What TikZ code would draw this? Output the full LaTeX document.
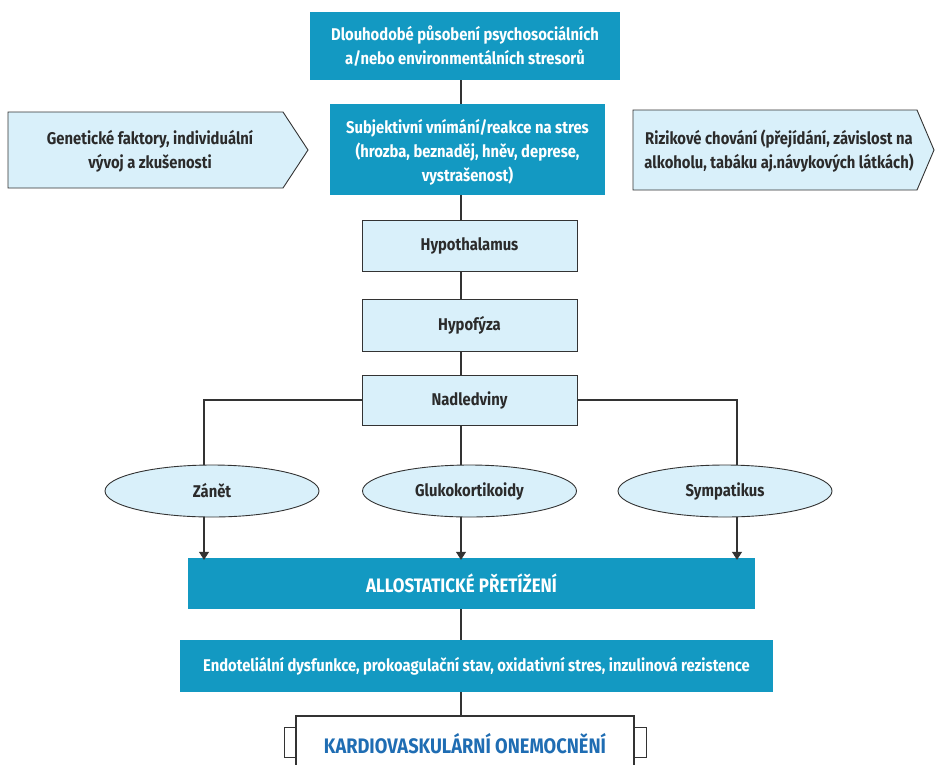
\documentclass[tikz,border=0pt]{standalone}
\usepackage{fontspec}
\setmainfont{Fira Sans}[FakeStretch=0.87]
\usetikzlibrary{shapes.geometric,arrows.meta}
\definecolor{myteal}{HTML}{1399C2}
\definecolor{mylight}{HTML}{D9F0FA}
\definecolor{myedge}{HTML}{333333}
\definecolor{mytext}{HTML}{2B2B2B}
\definecolor{kblue}{HTML}{1F6DB3}
\tikzset{
  darkbox/.style={fill=myteal, text=white, inner sep=0pt, align=center},
  lightbox/.style={fill=mylight, draw=myedge, line width=0.9pt, text=mytext, inner sep=0pt, align=center},
  oval/.style={ellipse, fill=mylight, draw=myedge, line width=0.9pt, text=mytext, inner sep=0pt, minimum width=214pt, minimum height=52pt},
  conn/.style={draw=myedge, line width=1.1pt},
  arr/.style={conn, -{Triangle[length=8pt,width=10pt]}},
  base/.style={font=\bfseries\fontsize{17}{24}\selectfont},
  bigtext/.style={font=\bfseries\fontsize{19.5}{24}\selectfont},
}
\begin{document}
\begin{tikzpicture}[x=1pt,y=-1pt, base]
\useasboundingbox (0,0) rectangle (936,764);
\coordinate (col) at (461,0);
\coordinate (lx) at (204,0);
\coordinate (rx) at (737,0);
% top
\node[darkbox, minimum width=310pt, minimum height=68pt] (top) at (465,46)
  {Dlouhodobé působení psychosociálních\\a/nebo environmentálních stresorů};
\node[darkbox, minimum width=275pt, minimum height=91pt] (subj) at (467.5,149.5)
  {\rule{0pt}{20pt}Subjektivní vnímání/reakce na stres\\(hrozba, beznaděj, hněv, deprese,\\vystrašenost)};
% side pentagons
\fill[mylight] (8,112) -- (283,112) -- (308,150) -- (283,188) -- (8,188) -- cycle;
\draw[myedge, line width=0.9pt] (8,112) -- (283,112) -- (308,150) -- (283,188) -- (8,188) -- cycle;
\node[text=mytext, align=center] (gen) at (150,151) {Genetické faktory, individuální\\vývoj a zkušenosti};
\fill[mylight] (633,110) -- (917,110) -- (934,150) -- (917,190) -- (633,190) -- cycle;
\draw[myedge, line width=0.9pt] (633,110) -- (917,110) -- (934,150) -- (917,190) -- (633,190) -- cycle;
\node[text=mytext, align=center] (riz) at (779,151) {Rizikové chování (přejídání, závislost na\\alkoholu, tabáku aj.návykových látkách)};
% chain
\node[lightbox, minimum width=215pt, minimum height=51pt] (hyp) at (469.5,245.5) {Hypothalamus};
\node[lightbox, minimum width=215pt, minimum height=52pt] (hypo) at (469.5,325) {Hypofýza};
\node[lightbox, minimum width=215pt, minimum height=50pt] (nad) at (469.5,400) {Nadledviny};
% ellipses
\node[oval] (zan) at (212,491) {Zánět};
\node[oval] (glu) at (469.5,491) {Glukokortikoidy};
\node[oval] (sym) at (725,491) {Sympatikus};
% allostatic
\node[darkbox, bigtext, minimum width=567pt, minimum height=51pt] (allo) at (471.5,583.5) {ALLOSTATICKÉ PŘETÍŽENÍ\hspace*{20pt}};
\node[darkbox, minimum width=593pt, minimum height=52pt] (endo) at (476.5,666) {Endoteliální dysfunkce, prokoagulační stav, oxidativní stres, inzulinová rezistence};
% kardio
\draw[myedge, line width=0.9pt, fill=white] (284,727) rectangle (296,757);
\draw[myedge, line width=0.9pt, fill=white] (634,727) rectangle (646,757);
\node[draw=myedge, line width=1.2pt, fill=white, text=kblue, minimum width=338pt, minimum height=56pt, inner sep=0pt, font=\bfseries\fontsize{21}{24}\selectfont] (kar) at (465,744) {KARDIOVASKULÁRNÍ ONEMOCNĚNÍ};
% connectors
\draw[conn] (top.south -| col) -- (subj.north -| col);
\draw[conn] (subj.south -| col) -- (hyp.north -| col);
\draw[conn] (hyp.south -| col) -- (hypo.north -| col);
\draw[conn] (hypo.south -| col) -- (nad.north -| col);
\draw[conn] (nad.west) -| (lx |- zan.north);
\draw[conn] (nad.east) -| (rx |- sym.north);
\draw[conn] (nad.south -| col) -- (col |- glu.north);
\draw[arr] (lx |- zan.south) -- ([yshift=-2pt]lx |- allo.north);
\draw[arr] (col |- glu.south) -- ([yshift=-2pt]col |- allo.north);
\draw[arr] (rx |- sym.south) -- ([yshift=-2pt]rx |- allo.north);
\draw[conn] (allo.south -| col) -- (endo.north -| col);
\draw[conn] (endo.south -| col) -- (kar.north -| col);
\end{tikzpicture}
\end{document}
